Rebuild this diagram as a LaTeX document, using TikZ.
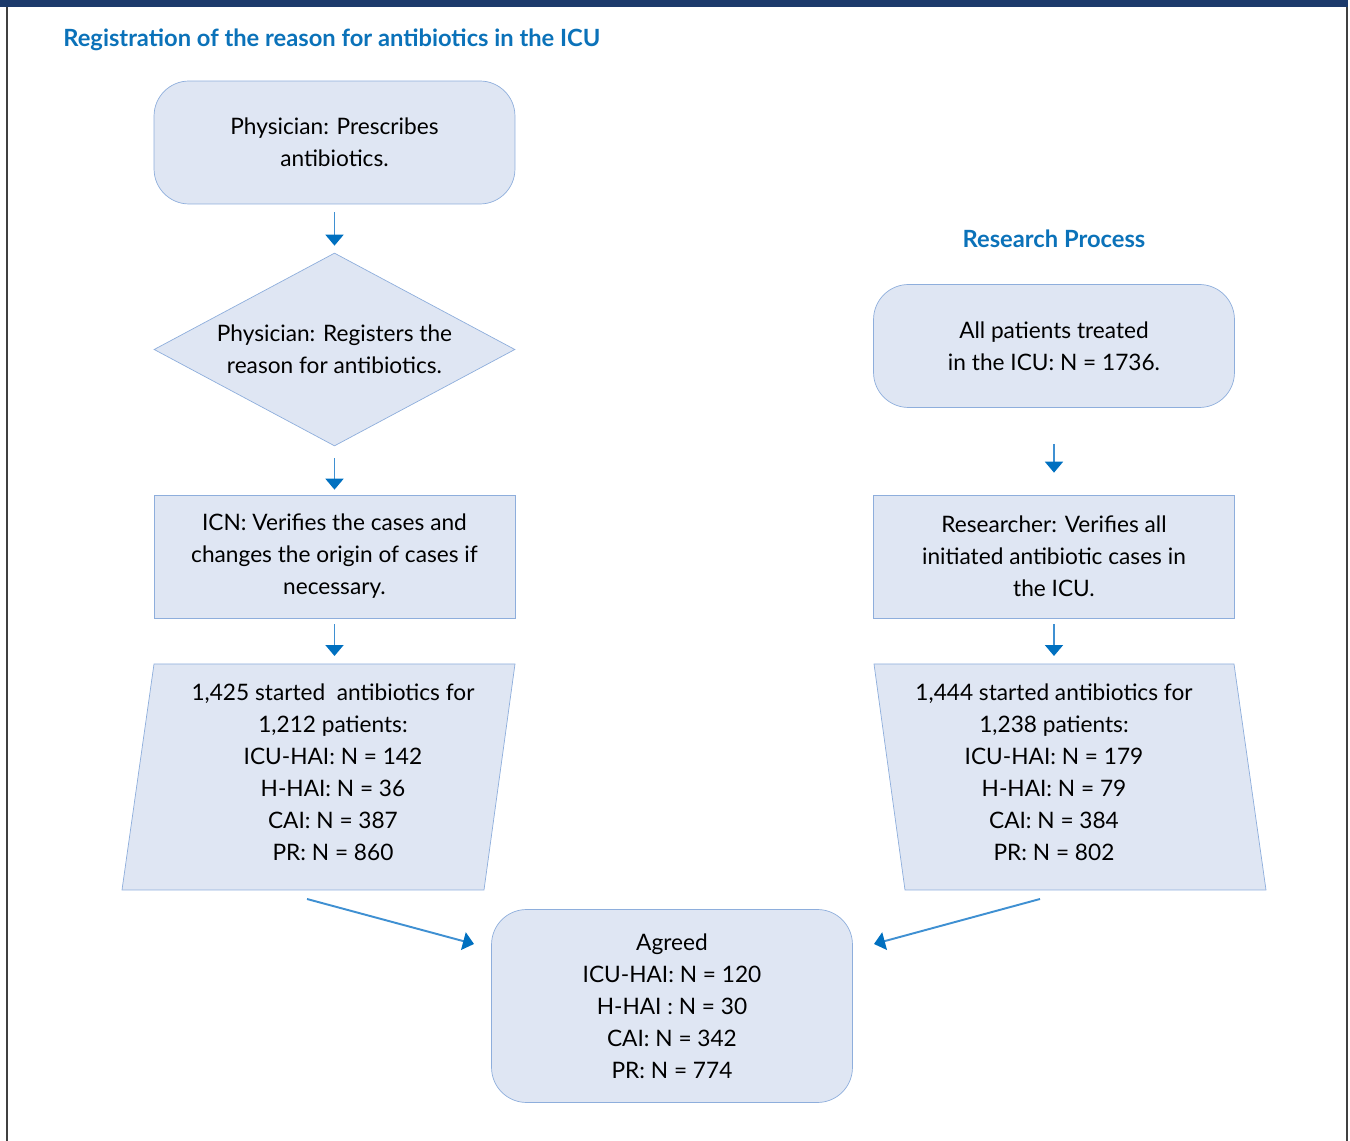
\documentclass[tikz,border=0pt]{standalone}
\usepackage{fontspec}
\setmainfont{Lato}
\usepackage{xcolor}
\usetikzlibrary{arrows.meta,positioning,shapes.geometric,calc}
\definecolor{hdr}{HTML}{0B72B9}
\definecolor{navy}{HTML}{1C3A6B}
\definecolor{boxfill}{HTML}{DFE6F3}
\definecolor{boxline}{HTML}{8EAEDC}
\definecolor{arrline}{HTML}{3F90D2}
\definecolor{tipc}{HTML}{0070C0}

\begin{document}
\begin{tikzpicture}[
  x=0.02cm, y=-0.02cm,
  font=\fontsize{12.9}{18.2}\selectfont,
  box/.style={draw=boxline, fill=boxfill, minimum width=7.22cm, minimum height=2.46cm, align=center, inner sep=0pt},
  rbox/.style={box, rounded corners=0.7cm},
  arr/.style={draw=arrline, line width=1.1pt, -{Triangle[width=3.6mm, length=2.2mm, color=tipc]}},
  lab/.style={font=\fontsize{13.5}{16}\bfseries\selectfont, text=hdr, inner sep=0pt}
]
\useasboundingbox (0,0) rectangle (1350,1141);
% frame
\fill[navy] (0,0) rectangle (1348,7);
\draw[black!75, line width=0.8pt] (7,7) -- (7,1141);
\draw[black!75, line width=0.8pt] (1347,7) -- (1347,1141);
% titles
\node[lab, anchor=west] (ttl) at (63,40) {Registration of the reason for antibiotics in the ICU};
\node[lab] (rp) at (1054,239) {Research Process};
% left column
\node[rbox] (presc) at (334.5,142.5) {Physician: Prescribes\\antibiotics.};
\node[diamond, draw=boxline, fill=boxfill, align=center, inner sep=0pt, aspect=1.87,
      minimum width=7.22cm, minimum height=3.86cm] (reg) at (334.5,349.5) {Physician: Registers the\\reason for antibiotics.};
\node[box] (icn) at (334.5,556.5) {ICN: Verifies the cases and\\changes the origin of cases if\\necessary.};
\draw[draw=boxline, fill=boxfill] (154,664) -- (515,664) -- (484,890) -- (122,890) -- cycle;
\node[align=center] (lres) at (333,772) {1,425 started\ \ antibiotics for\\1,212 patients:\\ICU-HAI: N = 142\\H-HAI: N = 36\\CAI: N = 387\\PR: N = 860};
\draw[arr, shorten <=1.6mm, shorten >=1.4mm] (presc) -- (reg);
\draw[arr, shorten <=2.4mm, shorten >=1mm] (reg) -- (icn);
\draw[arr, shorten <=1.2mm, shorten >=1.6mm] (icn.south) -- (334.5,664);
% right column
\node[rbox] (allpat) at (1054,346) {All patients treated\\in the ICU: N = 1736.};
\node[box] (res) at (1054,556.5) {Researcher: Verifies all\\initiated antibiotic cases in\\the ICU.};
\draw[draw=boxline, fill=boxfill] (874,664) -- (1234,664) -- (1266,890) -- (905,890) -- cycle;
\node[align=center] (rres) at (1054,772) {1,444 started antibiotics for\\1,238 patients:\\ICU-HAI: N = 179\\H-HAI: N = 79\\CAI: N = 384\\PR: N = 802};
\draw[arr, shorten <=7.2mm, shorten >=4.4mm] (allpat) -- (res);
\draw[arr, shorten <=1.2mm, shorten >=1.6mm] (res.south) -- (1054,664);
% agreed
\node[rbox, minimum height=3.86cm] (agr) at (672,1006) {Agreed\\ICU-HAI: N = 120\\H-HAI : N = 30\\CAI: N = 342\\PR: N = 774};
\coordinate (lout) at (307,899);
\coordinate (lin) at (474,944);
\coordinate (rout) at (1040,899);
\coordinate (rin) at (874,944);
\draw[arr] (lout) -- (lin);
\draw[arr] (rout) -- (rin);
\end{tikzpicture}
\end{document}
